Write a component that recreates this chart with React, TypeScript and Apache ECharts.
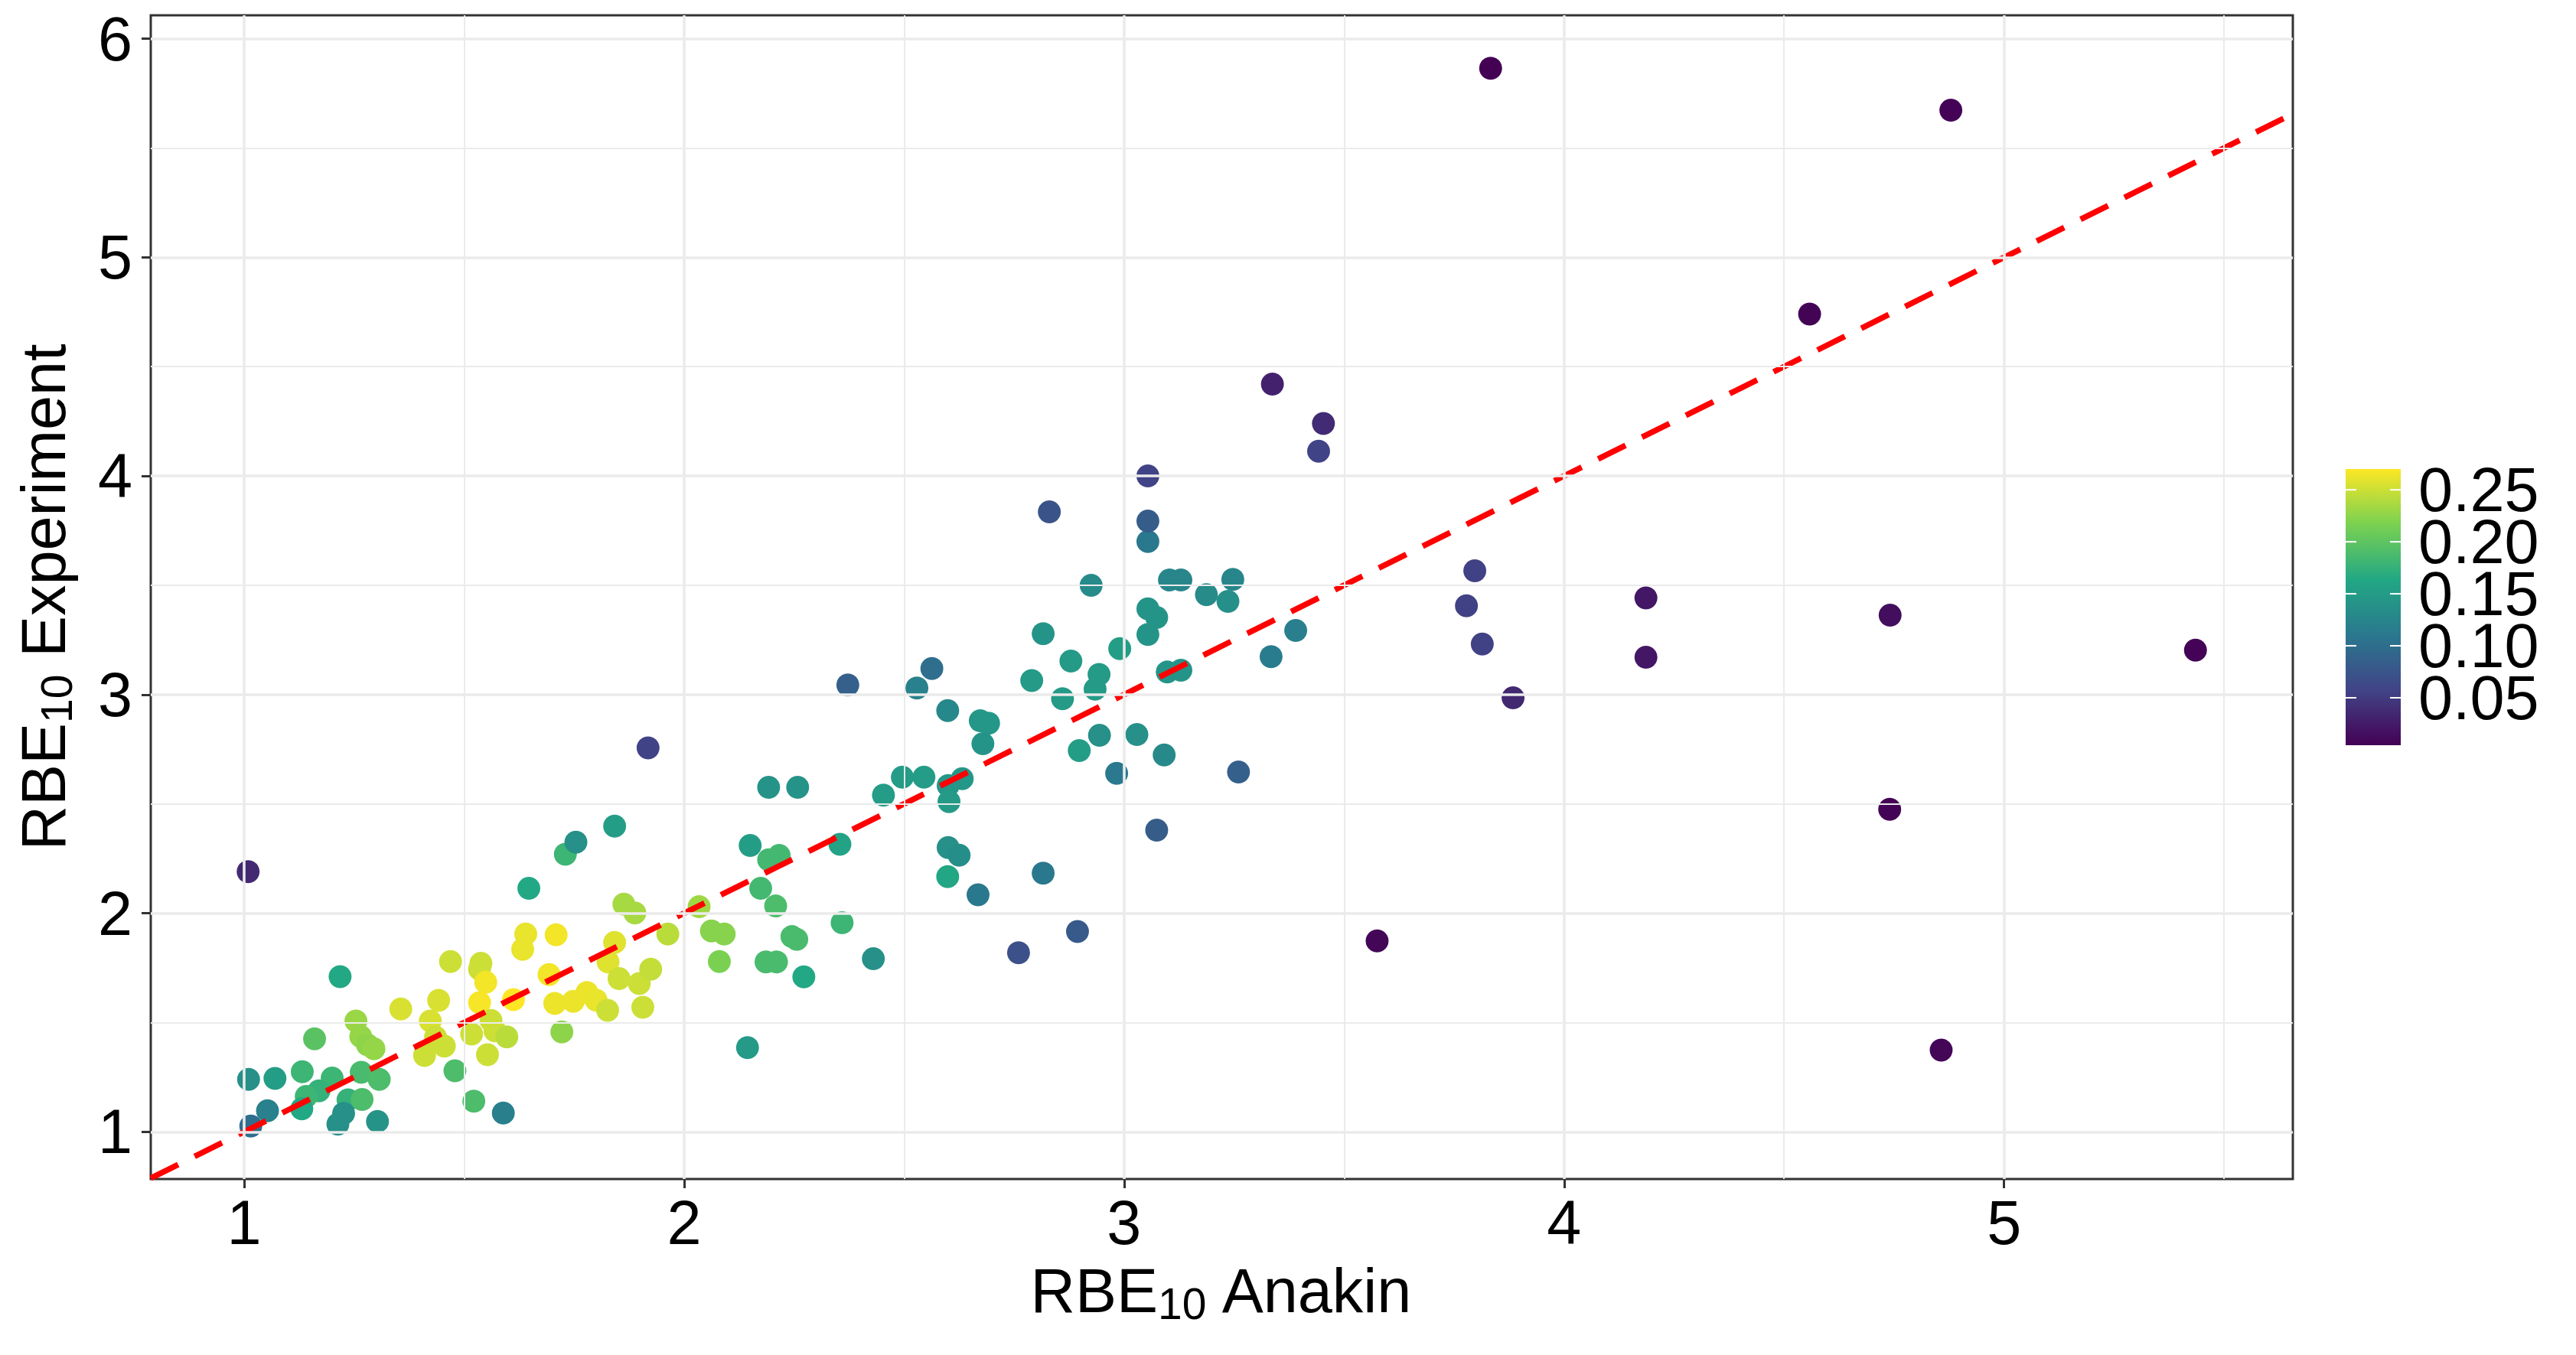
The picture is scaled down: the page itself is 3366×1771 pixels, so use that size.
import React, { useEffect, useRef } from "react";
import * as echarts from "echarts";

// ---- data ----
const rbeAnakin = [
  1.009, 1.218, 1.16, 1.254, 1.265, 1.28, 1.295, 1.01, 1.07, 1.132, 1.2, 1.266, 1.307, 1.17, 1.141, 1.131, 1.053, 1.015, 1.236, 1.268,
  1.226, 1.213, 1.303, 1.356, 1.442, 1.423, 1.435, 1.455, 1.41, 1.469, 1.479,
  1.538, 1.535, 1.549, 1.535, 1.612, 1.517, 1.561, 1.57, 1.597, 1.553, 1.522, 1.589, 1.64, 1.633, 1.709, 1.693, 1.706, 1.748, 1.779,
  1.8, 1.826, 1.906, 1.722, 1.842, 1.827, 1.852, 1.898, 1.924, 1.863, 1.888, 1.963, 2.034, 2.062, 2.091, 2.08, 1.647, 1.73, 1.754, 1.842,
  1.918,
  2.15, 2.174, 2.208, 2.245, 2.256, 2.186, 2.21, 2.272, 2.144, 2.192, 2.216, 2.192, 2.258, 2.354, 2.359, 2.43, 2.372, 2.453, 2.496,
  2.545, 2.6, 2.632, 2.602, 2.563, 2.529, 2.599, 2.673, 2.692, 2.679, 2.6, 2.625, 2.599, 2.668, 2.816, 2.76, 2.894, 2.79, 2.816, 2.879,
  2.86, 2.943, 2.934, 2.925, 2.99, 2.944, 3.029, 2.898, 3.091, 2.983, 3.054, 3.074, 3.054, 3.098, 3.129, 3.054, 3.054, 3.054, 2.83, 3.103,
  3.129, 3.187, 3.247, 3.236, 3.39, 3.334, 3.26, 3.074, 3.337, 3.453, 3.442,
  3.797, 3.778, 3.814, 3.884, 4.186, 4.186, 3.575, 3.833, 4.879, 4.558, 4.741, 5.435, 4.74, 4.857,
];

const rbeExperiment = [
  2.19, 1.71, 1.425, 1.507, 1.436, 1.398, 1.38, 1.24, 1.244, 1.275, 1.246, 1.272, 1.24, 1.187, 1.162, 1.105, 1.096, 1.026, 1.146, 1.148,
  1.084, 1.035, 1.047, 1.562, 1.601, 1.507, 1.433, 1.392, 1.349, 1.779, 1.279,
  1.771, 1.744, 1.684, 1.591, 1.605, 1.447, 1.509, 1.462, 1.434, 1.353, 1.14, 1.086, 1.905, 1.835, 1.901, 1.719, 1.587, 1.597, 1.637,
  1.602, 1.556, 1.57, 1.457, 1.866, 1.777, 1.701, 1.678, 1.744, 2.041, 2.001, 1.905, 2.03, 1.919, 1.905, 1.779, 2.114, 2.27, 2.325, 2.398,
  2.756,
  2.31, 2.114, 2.033, 1.893, 1.88, 1.777, 1.777, 1.709, 1.385, 2.244, 2.264, 2.576, 2.576, 2.315, 1.956, 1.792, 3.044, 2.54, 2.622,
  2.622, 2.584, 2.615, 2.51, 3.119, 3.03, 2.927, 2.88, 2.869, 2.775, 2.3, 2.265, 2.167, 2.084, 2.183, 1.819, 1.916, 3.064, 3.278, 3.153,
  2.981, 3.092, 3.025, 3.5, 3.21, 2.814, 2.817, 2.744, 2.724, 2.64, 3.392, 3.353, 3.275, 3.103, 3.111, 3.7, 3.794, 4.0, 3.836, 3.524,
  3.524, 3.457, 3.527, 3.426, 3.293, 3.173, 2.646, 2.38, 4.42, 4.24, 4.113,
  3.566, 3.406, 3.231, 2.985, 3.442, 3.171, 1.873, 5.865, 5.673, 4.74, 3.363, 3.203, 2.475, 1.374,
];

const colourValue = [
  0.036, 0.164, 0.198, 0.23, 0.228, 0.225, 0.228, 0.137, 0.152, 0.18, 0.18, 0.187, 0.19, 0.175, 0.18, 0.164, 0.121, 0.1, 0.175, 0.19,
  0.137, 0.137, 0.14, 0.255, 0.255, 0.255, 0.25, 0.25, 0.25, 0.25, 0.19,
  0.25, 0.25, 0.266, 0.267, 0.27, 0.25, 0.25, 0.25, 0.243, 0.25, 0.19, 0.12, 0.262, 0.262, 0.266, 0.266, 0.263, 0.263, 0.263,
  0.262, 0.25, 0.25, 0.225, 0.258, 0.258, 0.25, 0.25, 0.247, 0.235, 0.235, 0.243, 0.232, 0.222, 0.222, 0.217, 0.164, 0.18, 0.137, 0.152,
  0.057,
  0.152, 0.184, 0.19, 0.188, 0.188, 0.188, 0.188, 0.164, 0.148, 0.184, 0.184, 0.14, 0.14, 0.157, 0.18, 0.137, 0.086, 0.15, 0.15,
  0.15, 0.145, 0.145, 0.148, 0.1, 0.121, 0.128, 0.145, 0.145, 0.142, 0.137, 0.135, 0.162, 0.111, 0.111, 0.07, 0.08, 0.148, 0.142, 0.148,
  0.148, 0.148, 0.148, 0.132, 0.152, 0.137, 0.137, 0.152, 0.13, 0.112, 0.142, 0.142, 0.142, 0.142, 0.142, 0.111, 0.083, 0.057, 0.074, 0.126,
  0.126, 0.132, 0.126, 0.136, 0.118, 0.115, 0.086, 0.083, 0.03, 0.038, 0.057,
  0.055, 0.055, 0.055, 0.035, 0.022, 0.022, 0.008, 0.0044, 0.006, 0.007, 0.015, 0.006, 0.007, 0.008,
];

const X_BREAKS = [1, 2, 3, 4, 5];
const X_MINOR = [1.5, 2.5, 3.5, 4.5, 5.5];
const Y_BREAKS = [1, 2, 3, 4, 5, 6];
const Y_MINOR = [1.5, 2.5, 3.5, 4.5, 5.5];
const LEGEND_BREAKS = [0.05, 0.1, 0.15, 0.2, 0.25];
const VIRIDIS = ["#440154", "#414487", "#2A788E", "#22A884", "#7AD151", "#FDE725"];

const FONT = "'Liberation Sans', Arial, Helvetica, sans-serif";

function expand(v: number[]) {
  const lo = Math.min(...v);
  const hi = Math.max(...v);
  const e = (hi - lo) * 0.05;
  return [lo - e, hi + e];
}

export default function App() {
  const ref = useRef<HTMLDivElement>(null);

  useEffect(() => {
    if (!ref.current) return;
    const chart = echarts.init(ref.current, undefined, { renderer: "svg" });

    const [xMin, xMax] = expand(rbeAnakin);
    const [yMin, yMax] = expand(rbeExperiment);
    const cMin = Math.min(...colourValue);
    const cMax = Math.max(...colourValue);

    const points = rbeAnakin.map((x, i) => [x, rbeExperiment[i], colourValue[i]]);

    const major = { color: "#EBEBEB", width: 3.6, type: "solid" as const };
    const minor = { color: "#EBEBEB", width: 2, type: "solid" as const };
    const gridLines = [
      ...X_MINOR.map((v) => ({ xAxis: v, lineStyle: minor })),
      ...Y_MINOR.map((v) => ({ yAxis: v, lineStyle: minor })),
      ...X_BREAKS.map((v) => ({ xAxis: v, lineStyle: major })),
      ...Y_BREAKS.map((v) => ({ yAxis: v, lineStyle: major })),
    ];

    // colour bar
    const cbLeft = 3065;
    const cbTop = 613;
    const cbW = 72;
    const cbH = 361;
    const yOf = (v: number) => cbTop + ((cMax - v) / (cMax - cMin)) * cbH;
    const gradStops = VIRIDIS.slice()
      .reverse()
      .map((c, i) => ({ offset: i / (VIRIDIS.length - 1), color: c }));

    const graphic: any[] = [
      {
        type: "rect",
        shape: { x: cbLeft, y: cbTop, width: cbW, height: cbH },
        style: { fill: new echarts.graphic.LinearGradient(0, 0, 0, 1, gradStops) },
        silent: true,
      },
    ];
    LEGEND_BREAKS.forEach((v) => {
      const y = yOf(v);
      graphic.push(
        {
          type: "line",
          shape: { x1: cbLeft, y1: y, x2: cbLeft + 14, y2: y },
          style: { stroke: "#FFFFFF", lineWidth: 2 },
          silent: true,
        },
        {
          type: "line",
          shape: { x1: cbLeft + cbW - 14, y1: y, x2: cbLeft + cbW, y2: y },
          style: { stroke: "#FFFFFF", lineWidth: 2 },
          silent: true,
        },
        {
          type: "text",
          x: 3160,
          y: y,
          style: {
            text: v.toFixed(2),
            fontSize: 81,
            lineHeight: 62,
            fontFamily: FONT,
            fill: "#000000",
            align: "left",
            verticalAlign: "middle",
            textAlign: "left",
            textVerticalAlign: "middle",
          },
          silent: true,
        }
      );
    });

    const titleStyle = {
      fontSize: 81,
      fontFamily: FONT,
      color: "#000000",
      rich: {
        m: { fontSize: 81, fontFamily: FONT, color: "#000000", lineHeight: 90 },
        s: { fontSize: 57, fontFamily: FONT, color: "#000000", lineHeight: 40, verticalAlign: "bottom" },
      },
    };

    chart.setOption({
      animation: false,
      backgroundColor: "#FFFFFF",
      grid: {
        left: 197,
        right: 370,
        top: 20,
        bottom: 230,
        show: true,
        backgroundColor: "#FFFFFF",
        borderColor: "#333333",
        borderWidth: 3,
        containLabel: false,
      },
      xAxis: {
        type: "value",
        min: xMin,
        max: xMax,
        splitLine: { show: false },
        axisLine: { show: false },
        axisTick: {
          show: true,
          customValues: X_BREAKS,
          length: 12,
          lineStyle: { color: "#333333", width: 3 },
        },
        axisLabel: {
          customValues: X_BREAKS,
          fontSize: 81,
          fontFamily: FONT,
          color: "#000000",
          margin: 16,
          formatter: (v: number) => String(v),
        },
        name: "{m|RBE}{s|10}{m| Anakin}",
        nameLocation: "middle",
        nameGap: 101,
        nameTextStyle: titleStyle,
      },
      yAxis: {
        type: "value",
        min: yMin,
        max: yMax,
        splitLine: { show: false },
        axisLine: { show: false },
        axisTick: {
          show: true,
          customValues: Y_BREAKS,
          length: 12,
          lineStyle: { color: "#333333", width: 3 },
        },
        axisLabel: {
          customValues: Y_BREAKS,
          fontSize: 81,
          fontFamily: FONT,
          color: "#000000",
          margin: 24,
          formatter: (v: number) => String(v),
        },
        name: "{m|RBE}{s|10}{m| Experiment}",
        nameLocation: "middle",
        nameGap: 95,
        nameTextStyle: titleStyle,
      },
      visualMap: {
        type: "continuous",
        show: false,
        min: cMin,
        max: cMax,
        dimension: 2,
        seriesIndex: 1,
        inRange: { color: VIRIDIS },
      },
      graphic,
      series: [
        {
          type: "line",
          data: [],
          z: 1,
          silent: true,
          markLine: {
            silent: true,
            symbol: ["none", "none"],
            label: { show: false },
            animation: false,
            data: gridLines,
          },
        },
        {
          type: "scatter",
          data: points,
          symbol: "circle",
          symbolSize: 30,
          z: 2,
          itemStyle: { opacity: 1 },
        },
        {
          type: "line",
          data: [
            [xMin, xMin],
            [xMax, xMax],
          ],
          z: 3,
          silent: true,
          showSymbol: false,
          symbol: "none",
          lineStyle: { color: "#FF0000", width: 7.5, type: [40, 24] },
        },
      ],
    });

    return () => chart.dispose();
  }, []);

  return (
    <div
      ref={ref}
      style={{ position: "fixed", left: 0, top: 0, width: "3366px", height: "1771px" }}
    />
  );
}
